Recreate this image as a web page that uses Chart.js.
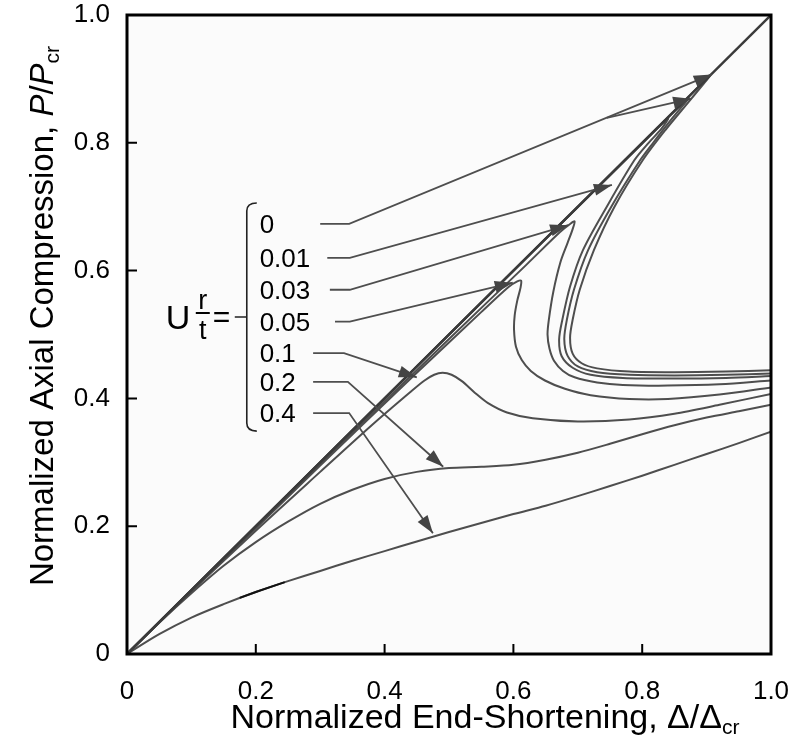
<!DOCTYPE html>
<html>
<head>
<meta charset="utf-8">
<script src="https://cdn.jsdelivr.net/npm/chart.js@4.4.1/dist/chart.umd.min.js"></script>
<style>
  html, body { margin: 0; padding: 0; background: #fff; }
</style>
</head>
<body>
<canvas id="chart" width="792" height="740"></canvas>
<script>
// axis ticks
const tickValues = [0, 0.2, 0.4, 0.6, 0.8, 1.0];
const tickLabels = ['0', '0.2', '0.4', '0.6', '0.8', '1.0'];

// imperfection amplitudes, one leader line per label
const uLabels = ['0', '0.01', '0.03', '0.05', '0.1', '0.2', '0.4'];

// linear prebuckling path
const linearPath = [[0, 0], [1, 1]];

// load / end-shortening paths  [delta, P]
const pathA = [[0, 0], [0.5, 0.5], [0.85, 0.85], [0.905, 0.905], [0.877, 0.87], [0.836, 0.82], [0.801, 0.773],
  [0.757, 0.70], [0.725, 0.632], [0.703, 0.57], [0.692, 0.523], [0.688, 0.495], [0.692, 0.47], [0.706, 0.455],
  [0.73, 0.447], [0.78, 0.442], [0.85, 0.441], [0.93, 0.442], [1.0, 0.444]];
const pathB = [[0, 0], [0.5, 0.5], [0.82, 0.819], [0.872, 0.870], [0.848, 0.84], [0.817, 0.80], [0.797, 0.773],
  [0.752, 0.70], [0.716, 0.632], [0.694, 0.57], [0.683, 0.523], [0.679, 0.493], [0.684, 0.467], [0.70, 0.450],
  [0.73, 0.441], [0.78, 0.437], [0.85, 0.436], [0.93, 0.437], [1.0, 0.439]];
const path001 = [[0, 0], [0.5, 0.5], [0.8, 0.799], [0.84, 0.838], [0.83, 0.822], [0.81, 0.80], [0.788, 0.773],
  [0.745, 0.70], [0.708, 0.632], [0.688, 0.575], [0.676, 0.523], [0.671, 0.492], [0.675, 0.466], [0.692, 0.448],
  [0.72, 0.437], [0.77, 0.432], [0.85, 0.431], [0.93, 0.432], [1.0, 0.435]];
const path003 = [[0, 0], [0.3, 0.297], [0.5, 0.493], [0.62, 0.609], [0.672, 0.66], [0.688, 0.673], [0.695, 0.677],
  [0.692, 0.665], [0.684, 0.643], [0.673, 0.613], [0.662, 0.567], [0.655, 0.523], [0.653, 0.5], [0.656, 0.478],
  [0.663, 0.459], [0.677, 0.443], [0.695, 0.433], [0.73, 0.425], [0.77, 0.421], [0.84, 0.42], [0.92, 0.422], [1.0, 0.428]];
const path005 = [[0, 0], [0.3, 0.295], [0.45, 0.44], [0.55, 0.535], [0.592, 0.574], [0.606, 0.583], [0.612, 0.584],
  [0.611, 0.573], [0.606, 0.553], [0.602, 0.53], [0.601, 0.507], [0.604, 0.481], [0.613, 0.46], [0.627, 0.443],
  [0.649, 0.428], [0.68, 0.415], [0.72, 0.405], [0.78, 0.399], [0.84, 0.399], [0.92, 0.406], [1.0, 0.417]];
const path01 = [[0, 0], [0.1, 0.098], [0.2, 0.193], [0.3, 0.285], [0.38, 0.358], [0.44, 0.41], [0.462, 0.428],
  [0.477, 0.437], [0.49, 0.44], [0.504, 0.437], [0.52, 0.427], [0.54, 0.409], [0.56, 0.393], [0.59, 0.378],
  [0.63, 0.369], [0.70, 0.364], [0.78, 0.367], [0.85, 0.376], [0.92, 0.39], [1.0, 0.407]];
const path02 = [[0, 0], [0.05, 0.049], [0.1, 0.095], [0.15, 0.138], [0.2, 0.175], [0.25, 0.207], [0.3, 0.235],
  [0.35, 0.257], [0.4, 0.274], [0.45, 0.285], [0.5, 0.291], [0.55, 0.293], [0.6, 0.296], [0.65, 0.304],
  [0.7, 0.315], [0.75, 0.329], [0.8, 0.344], [0.85, 0.358], [0.9, 0.370], [0.95, 0.380], [1.0, 0.390]];
const path04 = [[0, 0], [0.05, 0.031], [0.1, 0.057], [0.15, 0.078], [0.2, 0.097], [0.25, 0.114], [0.3, 0.130],
  [0.35, 0.146], [0.4, 0.161], [0.45, 0.176], [0.5, 0.191], [0.55, 0.205], [0.6, 0.219], [0.65, 0.232],
  [0.7, 0.247], [0.75, 0.263], [0.8, 0.279], [0.85, 0.296], [0.9, 0.313], [0.95, 0.330], [1.0, 0.348]];
const path04dark = [[0.175, 0.0878], [0.2, 0.097], [0.245, 0.1125]];

// leader lines: label end, kink, arrow tip
const leader0 = [[0.300, 0.673], [0.345, 0.673], [0.908, 0.907]];
const leader0branch = [[0.745, 0.839], [0.876, 0.869]];
const leader001 = [[0.311, 0.620], [0.346, 0.620], [0.753, 0.734]];
const leader003 = [[0.315, 0.570], [0.346, 0.570], [0.685, 0.671]];
const leader005 = [[0.323, 0.520], [0.346, 0.520], [0.599, 0.581]];
const leader01 = [[0.289, 0.471], [0.337, 0.471], [0.450, 0.433]];
const leader02 = [[0.289, 0.426], [0.343, 0.426], [0.491, 0.293]];
const leader04 = [[0.289, 0.377], [0.345, 0.377], [0.475, 0.189]];

const INK = '#4e4e4e';
const FONT = "'Liberation Sans', Arial, Helvetica, sans-serif";

function pts(arr) { return arr.map(p => ({ x: p[0], y: p[1] })); }

function curve(label, arr, extra) {
  return Object.assign({
    label: label, data: pts(arr), showLine: true, borderColor: INK, borderWidth: 2,
    pointRadius: 0, tension: 0.3, fill: false, order: 2
  }, extra || {});
}
function leader(label, arr) {
  return curve(label, arr, { tension: 0, borderWidth: 1.8, arrow: true, order: 1 });
}

const leaders = [leader0, leader001, leader003, leader005, leader01, leader02, leader04];

const datasets = [
  curve('linear', linearPath, { borderColor: '#3a3a3a', borderWidth: 2.4, tension: 0 }),
  curve('0', pathA), curve('0 (b)', pathB), curve('0.01', path001), curve('0.03', path003),
  curve('0.05', path005), curve('0.1', path01), curve('0.2', path02), curve('0.4', path04),
  curve('0.4 seg', path04dark, { borderColor: '#111', tension: 0, order: 1 }),
  leader('leader 0 branch', leader0branch)
];
leaders.forEach((l, i) => datasets.push(leader('leader ' + uLabels[i], l)));

function arrowHead(ctx, x0, y0, x1, y1) {
  const a = Math.atan2(y1 - y0, x1 - x0), L = 18, W = 6;
  const c = Math.cos(a), s = Math.sin(a);
  ctx.beginPath();
  ctx.moveTo(x1, y1);
  ctx.lineTo(x1 - L * c + W * s, y1 - L * s - W * c);
  ctx.lineTo(x1 - L * c - W * s, y1 - L * s + W * c);
  ctx.closePath();
  ctx.fill();
}

// text runs with mixed fonts: {t, font, dy}
function runsWidth(ctx, runs) {
  let w = 0;
  runs.forEach(r => { ctx.font = r.font; w += ctx.measureText(r.t).width; });
  return w;
}
function drawRuns(ctx, runs, x, y) {
  runs.forEach(r => {
    ctx.font = r.font;
    ctx.fillText(r.t, x, y + (r.dy || 0));
    x += ctx.measureText(r.t).width;
  });
}

function noPad(s) {
  s.paddingTop = 0; s.paddingBottom = 0; s.paddingLeft = 0; s.paddingRight = 0;
}

const decor = {
  id: 'decor',
  beforeDraw(chart) {
    const { ctx, chartArea: a } = chart;
    ctx.save();
    ctx.fillStyle = '#fbfbfb';
    ctx.fillRect(a.left, a.top, a.right - a.left, a.bottom - a.top);
    ctx.restore();
  },
  afterDatasetsDraw(chart) {
    const ctx = chart.ctx;
    ctx.save();
    ctx.fillStyle = '#444';
    chart.data.datasets.forEach((ds, i) => {
      if (!ds.arrow) return;
      const el = chart.getDatasetMeta(i).data;
      const n = el.length;
      arrowHead(ctx, el[n - 2].x, el[n - 2].y, el[n - 1].x, el[n - 1].y);
    });
    ctx.restore();
  },
  afterDraw(chart) {
    const { ctx, chartArea: a, scales } = chart;
    const xs = scales.x, ys = scales.y;
    ctx.save();

    // frame
    ctx.strokeStyle = '#000';
    ctx.lineWidth = 3;
    ctx.strokeRect(a.left, a.top, a.right - a.left, a.bottom - a.top);

    // inward ticks
    ctx.lineWidth = 2;
    ctx.beginPath();
    tickValues.slice(1, -1).forEach(v => {
      const px = xs.getPixelForValue(v);
      ctx.moveTo(px, a.bottom); ctx.lineTo(px, a.bottom - 10);
      const py = ys.getPixelForValue(v);
      ctx.moveTo(a.left, py); ctx.lineTo(a.left + 10, py);
    });
    ctx.stroke();

    ctx.fillStyle = '#000';
    ctx.textBaseline = 'alphabetic';
    ctx.textAlign = 'left';

    // x title
    const xRuns = [
      { t: 'Normalized End-Shortening, \u0394/\u0394', font: '34px ' + FONT },
      { t: 'cr', font: '21px ' + FONT, dy: 6 }
    ];
    const xw = runsWidth(ctx, xRuns);
    drawRuns(ctx, xRuns, 485 - xw / 2, 728);

    // y title
    const yRuns = [
      { t: 'Normalized Axial Compression, ', font: '33px ' + FONT },
      { t: 'P', font: 'italic 33px ' + FONT },
      { t: '/', font: '33px ' + FONT },
      { t: 'P', font: 'italic 33px ' + FONT },
      { t: 'cr', font: '21px ' + FONT, dy: 6 }
    ];
    const yw = runsWidth(ctx, yRuns);
    ctx.save();
    ctx.translate(53, 316);
    ctx.rotate(-Math.PI / 2);
    drawRuns(ctx, yRuns, -yw / 2, 0);
    ctx.restore();

    // U r/t = { labels
    const rows = leaders.map(l => ys.getPixelForValue(l[0][1]));
    const textX = xs.getPixelForValue(0.206);
    ctx.font = '26px ' + FONT;
    ctx.textBaseline = 'middle';
    uLabels.forEach((lab, i) => ctx.fillText(lab, textX, rows[i] + 2));

    const bx = xs.getPixelForValue(0.186);
    const top = rows[0] - 21, bot = rows[rows.length - 1] + 18;
    const mid = (top + bot) / 2;
    ctx.strokeStyle = '#222';
    ctx.lineWidth = 1.6;
    ctx.beginPath();
    ctx.moveTo(bx + 10, top);
    ctx.quadraticCurveTo(bx, top, bx, top + 8);
    ctx.lineTo(bx, bot - 8);
    ctx.quadraticCurveTo(bx, bot, bx + 10, bot);
    ctx.moveTo(bx - 12, mid);
    ctx.lineTo(bx, mid);
    ctx.stroke();

    ctx.textBaseline = 'alphabetic';
    ctx.font = '34px ' + FONT;
    ctx.fillText('U', bx - 81, mid + 12);
    ctx.font = '27px ' + FONT;
    ctx.textAlign = 'center';
    ctx.fillText('r', bx - 44, mid - 8);
    ctx.fillText('t', bx - 44, mid + 22);
    ctx.lineWidth = 2;
    ctx.strokeStyle = '#000';
    ctx.beginPath();
    ctx.moveTo(bx - 51, mid - 4); ctx.lineTo(bx - 37, mid - 4);
    ctx.stroke();
    ctx.textAlign = 'left';
    ctx.font = '30px ' + FONT;
    ctx.fillText('=', bx - 34, mid + 10);

    ctx.restore();
  }
};

new Chart(document.getElementById('chart'), {
  type: 'scatter',
  data: { datasets: datasets },
  plugins: [decor],
  options: {
    responsive: false,
    animation: false,
    layout: { padding: { left: 0, top: 15, right: 21, bottom: 0 } },
    plugins: { legend: { display: false }, tooltip: { enabled: false } },
    scales: {
      x: {
        type: 'linear', min: 0, max: 1,
        afterBuildTicks: s => { s.ticks = tickValues.map(v => ({ value: v })); },
        afterFit: s => { s.height = 86; noPad(s); },
        grid: { display: false, drawTicks: false },
        border: { display: false },
        ticks: { padding: 22, color: '#000', font: { family: FONT, size: 26 }, maxRotation: 0,
          callback: (v, i) => tickLabels[i] }
      },
      y: {
        type: 'linear', min: 0, max: 1,
        afterBuildTicks: s => { s.ticks = tickValues.map(v => ({ value: v })); },
        afterFit: s => { s.width = 127; noPad(s); },
        grid: { display: false, drawTicks: false },
        border: { display: false },
        ticks: { padding: 17, color: '#000', font: { family: FONT, size: 26 },
          callback: (v, i) => tickLabels[i] }
      }
    }
  }
});
</script>
</body>
</html>
